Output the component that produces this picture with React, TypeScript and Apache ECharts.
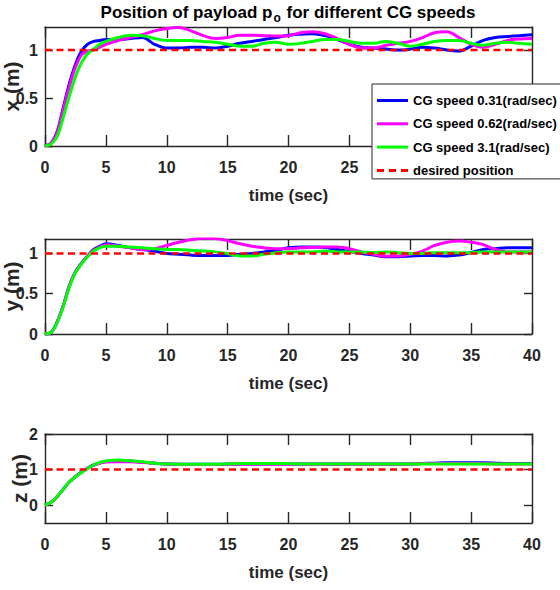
import React, { useEffect, useRef } from "react";
import * as echarts from "echarts";

const TIME = [0, 0.5, 1, 1.5, 2, 2.5, 3, 3.5, 4, 4.5, 5, 6, 7, 8, 9, 10, 11, 12, 13, 14, 15, 16, 17, 18, 19, 20, 21, 22, 23, 24, 25, 26, 27, 28, 29, 30, 31, 32, 33, 34, 35, 36, 37, 38, 39, 40];

const X_BLUE = [0, 0.03, 0.15, 0.4, 0.65, 0.85, 0.99, 1.06, 1.09, 1.1, 1.11, 1.11, 1.12, 1.13, 1.06, 1.02, 1.02, 1.03, 1.03, 1.02, 1.04, 1.07, 1.09, 1.11, 1.13, 1.155, 1.165, 1.17, 1.15, 1.11, 1.06, 1.03, 1.02, 1.01, 1.0, 1.01, 1.03, 1.02, 1.0, 0.99, 1.04, 1.1, 1.13, 1.14, 1.15, 1.16];
const X_MAG = [0, 0.03, 0.14, 0.38, 0.62, 0.82, 0.95, 0.99, 1.0, 1.03, 1.06, 1.1, 1.13, 1.16, 1.2, 1.225, 1.235, 1.2, 1.15, 1.12, 1.13, 1.155, 1.155, 1.15, 1.145, 1.15, 1.18, 1.19, 1.17, 1.12, 1.06, 1.02, 1.02, 1.05, 1.07, 1.09, 1.13, 1.18, 1.19, 1.13, 1.06, 1.03, 1.06, 1.1, 1.115, 1.12];
const X_GREEN = [0, 0.02, 0.1, 0.3, 0.52, 0.72, 0.87, 0.96, 1.01, 1.06, 1.09, 1.13, 1.155, 1.15, 1.12, 1.1, 1.1, 1.1, 1.09, 1.08, 1.06, 1.04, 1.04, 1.07, 1.08, 1.06, 1.07, 1.09, 1.11, 1.11, 1.09, 1.07, 1.07, 1.09, 1.07, 1.04, 1.06, 1.09, 1.1, 1.1, 1.07, 1.05, 1.07, 1.08, 1.07, 1.06];

const Y_BLUE = [0, 0.02, 0.15, 0.35, 0.6, 0.77, 0.88, 0.97, 1.05, 1.09, 1.12, 1.1, 1.07, 1.05, 1.03, 1.0, 0.99, 0.98, 0.975, 0.975, 0.975, 0.99, 1.0, 1.02, 1.04, 1.07, 1.08, 1.08, 1.075, 1.05, 1.025, 1.0, 0.98, 0.96, 0.96, 0.97, 0.975, 0.975, 0.97, 0.98, 1.01, 1.05, 1.06, 1.07, 1.07, 1.07];
const Y_MAG = [0, 0.02, 0.15, 0.35, 0.6, 0.77, 0.88, 0.97, 1.04, 1.08, 1.11, 1.09, 1.07, 1.05, 1.06, 1.1, 1.14, 1.17, 1.19, 1.185, 1.16, 1.12, 1.09, 1.07, 1.06, 1.06, 1.07, 1.075, 1.08, 1.08, 1.06, 1.02, 0.99, 0.965, 0.97, 0.99, 1.03, 1.1, 1.14, 1.155, 1.14, 1.11, 1.05, 1.02, 1.02, 1.02];
const Y_GREEN = [0, 0.02, 0.14, 0.34, 0.58, 0.76, 0.87, 0.96, 1.03, 1.07, 1.09, 1.09, 1.08, 1.07, 1.06, 1.05, 1.05, 1.04, 1.03, 1.02, 1.0, 0.97, 0.97, 0.99, 1.01, 1.02, 1.02, 1.02, 1.03, 1.02, 1.02, 1.02, 1.01, 1.02, 1.01, 1.0, 1.0, 1.01, 1.01, 1.01, 1.01, 1.02, 1.02, 1.02, 1.02, 1.02];

const Z_BLUE = [0, 0.08, 0.24, 0.45, 0.65, 0.8, 0.93, 1.04, 1.13, 1.19, 1.23, 1.25, 1.24, 1.21, 1.18, 1.16, 1.15, 1.15, 1.15, 1.15, 1.155, 1.16, 1.16, 1.16, 1.16, 1.16, 1.16, 1.16, 1.16, 1.16, 1.16, 1.16, 1.16, 1.16, 1.16, 1.16, 1.17, 1.18, 1.19, 1.19, 1.19, 1.19, 1.18, 1.17, 1.17, 1.17];
const Z_MAG = [0, 0.08, 0.24, 0.45, 0.65, 0.8, 0.93, 1.04, 1.12, 1.18, 1.21, 1.22, 1.22, 1.2, 1.18, 1.16, 1.15, 1.14, 1.14, 1.14, 1.15, 1.15, 1.15, 1.15, 1.15, 1.15, 1.15, 1.15, 1.15, 1.15, 1.15, 1.15, 1.15, 1.15, 1.15, 1.16, 1.17, 1.17, 1.17, 1.17, 1.17, 1.17, 1.16, 1.16, 1.16, 1.16];
const Z_GREEN = [0, 0.08, 0.24, 0.45, 0.65, 0.8, 0.92, 1.03, 1.13, 1.2, 1.24, 1.27, 1.25, 1.22, 1.18, 1.16, 1.15, 1.15, 1.15, 1.15, 1.16, 1.17, 1.17, 1.17, 1.17, 1.17, 1.16, 1.16, 1.16, 1.16, 1.16, 1.16, 1.16, 1.16, 1.16, 1.16, 1.16, 1.16, 1.16, 1.16, 1.16, 1.16, 1.16, 1.16, 1.16, 1.16];

const DESIRED_T = [0, 40];
const DESIRED_V = [1, 1];

const SERIES_NAMES = ["CG speed 0.31(rad/sec)", "CG speed 0.62(rad/sec)", "CG speed 3.1(rad/sec)", "desired position"];
const X_TICKS = { min: 0, max: 40, interval: 5 };
const Y_LABELS = ["x (m)", "y (m)", "z (m)"];
const Y_RANGES = [[0, 1.24], [0, 1.18], [-0.5, 2]];
const Y_TICKS = [[0, 0.5, 1], [0, 0.5, 1], [0, 1, 2]];
const X_LABEL = "time (sec)";

const FONT = "'Liberation Sans', Arial, sans-serif";
const AX = "#262626";
const COLORS = ["#0000FF", "#FF00FF", "#00FF00", "#FF0000"];
const SOLID_ICON = "path://M0,0h31v3h-31z";
const DASH_ICON = "path://M0,0h7v3h-7zM12,0h7v3h-7zM24,0h7v3h-7z";

const GRIDS = [
  { left: 45, top: 27, width: 487, height: 119 },
  { left: 45, top: 239, width: 487, height: 95 },
  { left: 45, top: 434, width: 487, height: 89 },
];
const Y_NAME_GAP = [23, 23, 15];

function pairs(t: number[], v: number[]) {
  return t.map((x, i) => [x, v[i]]);
}

export default function App() {
  const ref = useRef<HTMLDivElement>(null);
  useEffect(() => {
    if (!ref.current) return;
    const chart = echarts.init(ref.current, undefined, { renderer: "svg" });
    const lineStyleAxis = { color: AX, width: 1.4 };
    const xAxis: any[] = [];
    const yAxis: any[] = [];
    const series: any[] = [];
    const data = [
      [X_BLUE, X_MAG, X_GREEN],
      [Y_BLUE, Y_MAG, Y_GREEN],
      [Z_BLUE, Z_MAG, Z_GREEN],
    ];
    GRIDS.forEach((_, g) => {
      xAxis.push({
        gridIndex: g, type: "value", position: "bottom", ...X_TICKS,
        axisLine: { show: true, onZero: false, lineStyle: lineStyleAxis },
        axisTick: { show: true, inside: true, length: 11, lineStyle: lineStyleAxis },
        axisLabel: { fontSize: 16, fontWeight: "bold", fontFamily: FONT, color: AX, margin: 13 },
        splitLine: { show: false },
        name: X_LABEL, nameLocation: "middle", nameGap: 41, nameMoveOverlap: false,
        nameTextStyle: { fontSize: 17, fontWeight: "bold", fontFamily: FONT, color: AX },
      });
      xAxis.push({
        gridIndex: g, type: "value", position: "top", ...X_TICKS,
        axisLine: { show: true, onZero: false, lineStyle: lineStyleAxis },
        axisTick: { show: true, inside: true, length: 11, lineStyle: lineStyleAxis },
        axisLabel: { show: false },
        splitLine: { show: false },
      });
      yAxis.push({
        gridIndex: g, type: "value", position: "left",
        min: Y_RANGES[g][0], max: Y_RANGES[g][1],
        axisLine: { show: true, onZero: false, lineStyle: lineStyleAxis },
        axisTick: { show: true, inside: true, length: 8, lineStyle: lineStyleAxis, customValues: Y_TICKS[g] },
        axisLabel: { fontSize: 16, fontWeight: "bold", fontFamily: FONT, color: AX, margin: 7, customValues: Y_TICKS[g] },
        splitLine: { show: false },
        name: Y_LABELS[g], nameLocation: "middle", nameGap: Y_NAME_GAP[g], nameMoveOverlap: false,
        nameTextStyle: { fontSize: 21, fontWeight: "bold", fontFamily: FONT, color: AX },
      });
      yAxis.push({
        gridIndex: g, type: "value", position: "right",
        min: Y_RANGES[g][0], max: Y_RANGES[g][1],
        axisLine: { show: true, onZero: false, lineStyle: lineStyleAxis },
        axisTick: { show: true, inside: true, length: 8, lineStyle: lineStyleAxis, customValues: Y_TICKS[g] },
        axisLabel: { show: false },
        splitLine: { show: false },
      });
      data[g].forEach((vals, k) => {
        series.push({
          type: "line", name: SERIES_NAMES[k], xAxisIndex: 2 * g, yAxisIndex: 2 * g,
          data: pairs(TIME, vals), symbol: "none", smooth: 0.35,
          lineStyle: { color: COLORS[k], width: 3 }, itemStyle: { color: COLORS[k] },
        });
      });
      series.push({
        type: "line", name: SERIES_NAMES[3], xAxisIndex: 2 * g, yAxisIndex: 2 * g,
        data: pairs(DESIRED_T, DESIRED_V), symbol: "none",
        lineStyle: { color: COLORS[3], width: 2.5, type: [7, 4.5] }, itemStyle: { color: COLORS[3] },
        z: 3,
      });
    });
    chart.setOption({
      animation: false,
      backgroundColor: "#fff",
      grid: GRIDS.map((r) => ({ ...r, containLabel: false, outerBoundsMode: "none" })),
      xAxis, yAxis, series,
      legend: {
        orient: "vertical", left: 372, top: 84,
        data: SERIES_NAMES.map((n, i) => ({ name: n, icon: i === 3 ? DASH_ICON : SOLID_ICON })),
        itemWidth: 31, itemHeight: 15, itemGap: 10.3,
        padding: [10, 5, 2, 5],
        borderColor: AX, borderWidth: 1, backgroundColor: "#fff",
        textStyle: { fontSize: 13, fontWeight: "bold", fontFamily: FONT, color: "#000" },
        z: 10,
      },
      graphic: [
        {
          type: "text", x: 288, y: 1, z: 10,
          style: {
            text: "{a|Position of payload p}{b|o}{a| for different CG speeds}",
            align: "center", verticalAlign: "top",
            rich: {
              a: { fontSize: 17, fontWeight: "bold", fontFamily: FONT, fill: "#000" },
              b: { fontSize: 12, fontWeight: "bold", fontFamily: FONT, fill: "#000", padding: [11, 1, 0, 1] },
            },
          },
        },
      ],
    });
    return () => chart.dispose();
  }, []);
  return <div ref={ref} style={{ position: "fixed", left: 0, top: 0, width: 560, height: 590 }} />;
}
